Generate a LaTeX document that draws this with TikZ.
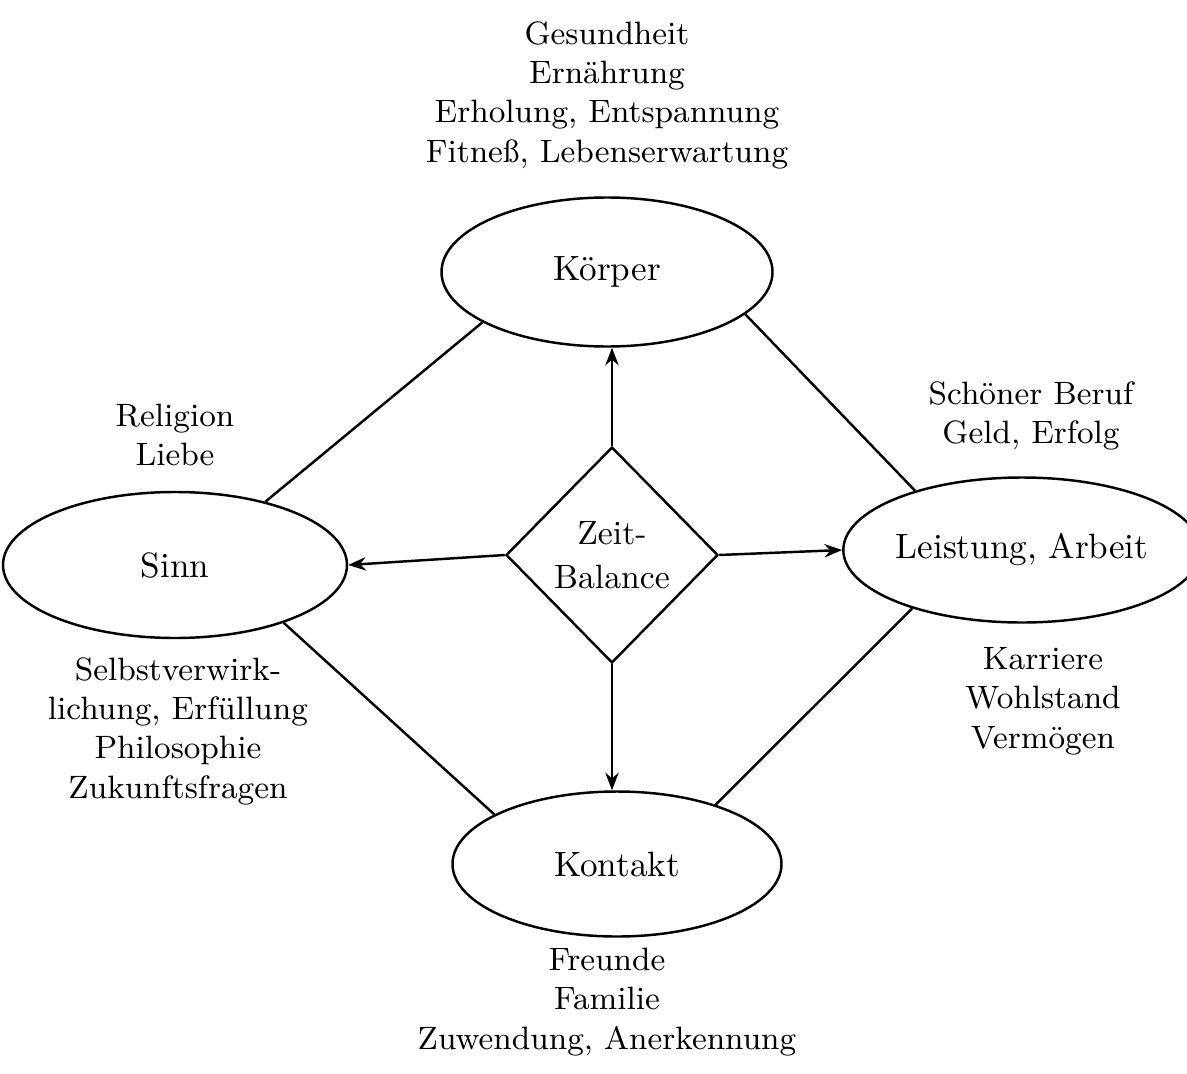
\documentclass[tikz,border=0pt]{standalone}
\usepackage{fontspec}
\usetikzlibrary{shapes.geometric, arrows.meta}
\tikzset{VertexStyle/.style = {draw, ellipse, line width=0.7pt, inner sep=0pt,
                               font=\fontsize{10}{12}\selectfont},
         EdgeStyle/.style   = {line width=0.7pt},
         ArrowStyle/.style  = {line width=0.7pt, -{Stealth[length=5pt, width=3.8pt]}},
         ListStyle/.style   = {align=center, font=\fontsize{9.2}{11.2}\selectfont}}

\begin{document}
\begin{tikzpicture}
\useasboundingbox (0,0) rectangle (11.87,10.73);
\node[VertexStyle, minimum width=3.31cm, minimum height=1.49cm] (koerper)  at (6.07,8.01) {Körper};
\node[VertexStyle, minimum width=3.44cm, minimum height=1.46cm] (sinn)     at (1.75,5.08) {Sinn};
\node[VertexStyle, minimum width=3.28cm, minimum height=1.45cm] (leistung) at (10.22,5.23) {Leistung, Arbeit};
\node[VertexStyle, minimum width=3.29cm, minimum height=1.45cm] (kontakt)  at (6.17,2.09) {Kontakt};
\node[draw, diamond, line width=0.7pt, inner sep=0pt, minimum width=2.12cm, minimum height=2.16cm,
      align=center, font=\fontsize{9.6}{12.5}\selectfont] (zeit) at (6.12,5.18) {Zeit-\\Balance};
% Bereiche
\node[ListStyle] (gesundheit) at (6.07,9.78) {Gesundheit\\Ernährung\\Erholung, Entspannung\\Fitneß, Lebenserwartung};
\node[ListStyle] (religion)   at (1.75,6.38) {Religion\\Liebe};
\node[ListStyle] (beruf)      at (10.31,6.57) {Schöner Beruf\\Geld, Erfolg};
\node[ListStyle] (selbst)     at (1.78,3.42) {Selbstverwirk-\\lichung, Erfüllung\\Philosophie\\Zukunftsfragen};
\node[ListStyle] (karriere)   at (10.43,3.72) {Karriere\\Wohlstand\\Vermögen};
\node[ListStyle] (freunde)    at (6.07,0.71) {Freunde\\Familie\\Zuwendung, Anerkennung};
\draw[EdgeStyle] (koerper.202) -- (sinn.35);
\draw[EdgeStyle] (koerper.343) -- (leistung.151);
\draw[EdgeStyle] (sinn.332) -- (kontakt.158);
\draw[EdgeStyle] (leistung.208) -- (kontakt.31);
\draw[ArrowStyle] (zeit.north) -- (zeit.north |- koerper.south);
\draw[ArrowStyle] (zeit.west) -- (sinn.east);
\draw[ArrowStyle] (zeit.east) -- (leistung.west);
\draw[ArrowStyle] (zeit.south) -- (zeit.south |- kontakt.north);
\end{tikzpicture}
\end{document}
